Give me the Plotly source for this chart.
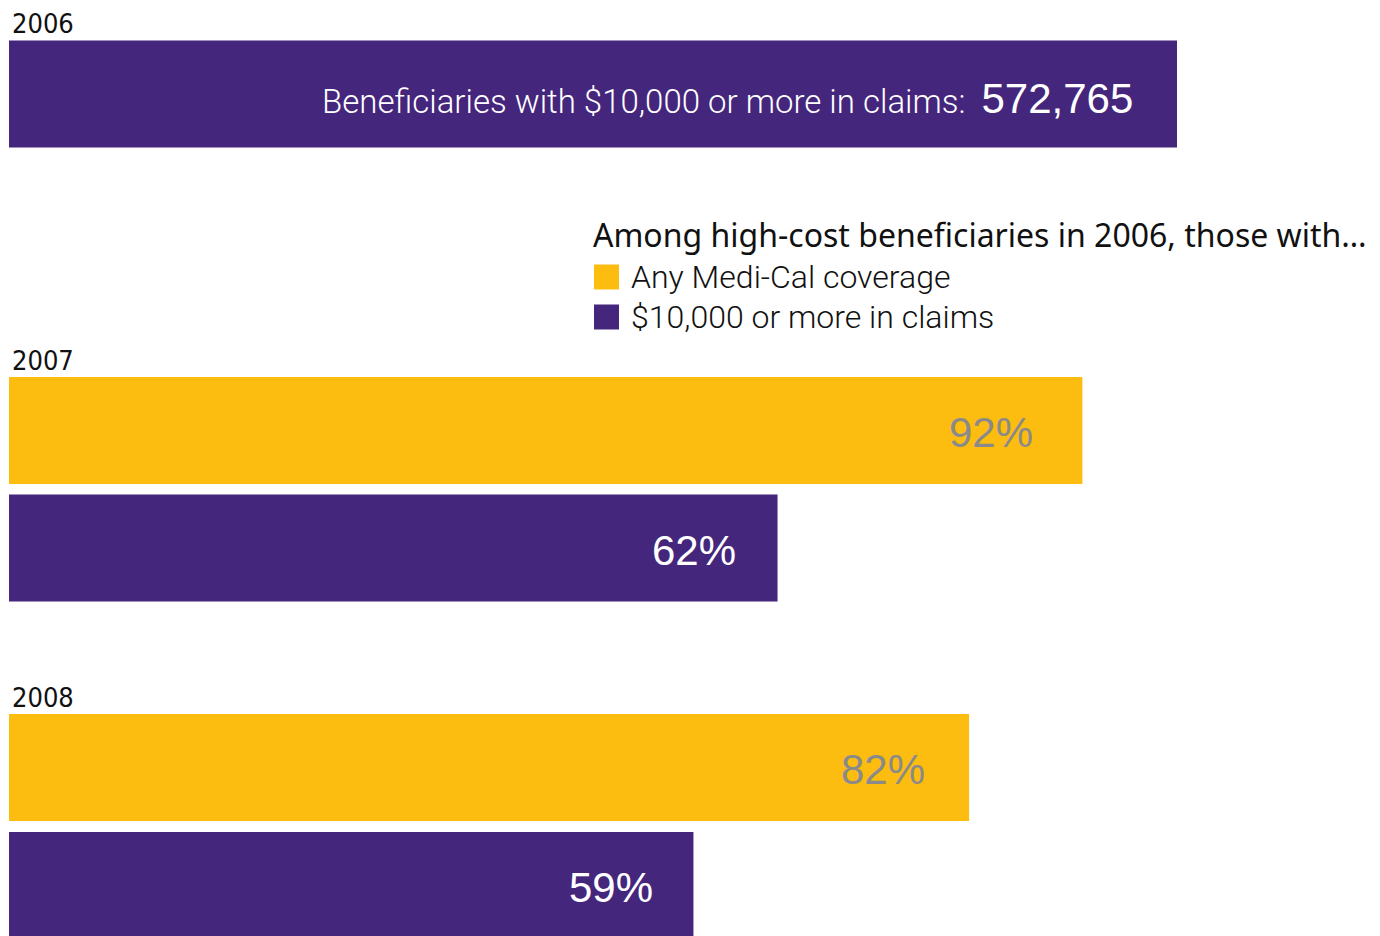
import plotly.graph_objects as go

# data (bar lengths as drawn, 2006 = 100)
years = ["2006", "2007", "2008"]
coverage_years = ["2007", "2008"]
coverage_len = [91.9, 82.2]
coverage_lbl = ["92%", "82%"]
claims_years = ["2006", "2007", "2008"]
claims_len = [100, 65.8, 58.6]
claims_lbl = ["572,765", "62%", "59%"]

PURPLE = "#45267D"
YELLOW = "#FCBD10"
GREY_TXT = "#8A8A8A"

W, H = 1380, 936
OFF = 8  # page body margin, compensated so the figure lines up with the window
# layout: vertical slot (pixel centre on screen) of each bar, bar thickness
BAR_H = 107
slot = {
    ("2006", "claims"): 94,
    ("2007", "coverage"): 430.5,
    ("2007", "claims"): 548,
    ("2008", "coverage"): 767.5,
    ("2008", "claims"): 885.5,
}
# gap between label end and bar end, per row
pad = {
    ("2006", "claims"): 42,
    ("2007", "coverage"): 47,
    ("2007", "claims"): 40,
    ("2008", "coverage"): 42,
    ("2008", "claims"): 38,
}
px_per_unit = 11.68
x0_px = 9


def px(x):
    return (x - OFF) / W


def py(y):
    return 1 - (y - OFF) / H


fig = go.Figure()
fig.add_trace(go.Bar(
    x=coverage_len,
    y=[slot[(y, "coverage")] for y in coverage_years],
    orientation="h", width=BAR_H,
    marker=dict(color=YELLOW, line=dict(width=0)),
    name="Any Medi-Cal coverage", hoverinfo="skip"))
fig.add_trace(go.Bar(
    x=claims_len,
    y=[slot[(y, "claims")] for y in claims_years],
    orientation="h", width=BAR_H,
    marker=dict(color=PURPLE, line=dict(width=0)),
    name="$10,000 or more in claims", hoverinfo="skip"))

ann = []
# value labels inside bars
for yr, v, lbl in zip(coverage_years, coverage_len, coverage_lbl):
    ann.append(dict(x=v, y=slot[(yr, "coverage")], xref="x", yref="y",
                    text=lbl, showarrow=False, xanchor="right",
                    xshift=-pad[(yr, "coverage")], yshift=-2,
                    font=dict(family="Liberation Sans, Arial", size=42, color=GREY_TXT)))
for yr, v, lbl in zip(claims_years, claims_len, claims_lbl):
    if yr == "2006":
        txt = ("Beneficiaries with $10,000 or more in claims:  "
               f"<span style='font-family:Liberation Sans;font-size:42px;font-weight:400'>{lbl}</span>")
        ann.append(dict(x=v, y=slot[(yr, "claims")], xref="x", yref="y",
                        text=txt, showarrow=False, xanchor="right",
                        xshift=-pad[(yr, "claims")], yshift=-4,
                        font=dict(family="Roboto", size=33, weight=300, color="white")))
    else:
        ann.append(dict(x=v, y=slot[(yr, "claims")], xref="x", yref="y",
                        text=lbl, showarrow=False, xanchor="right",
                        xshift=-pad[(yr, "claims")], yshift=-2,
                        font=dict(family="Liberation Sans, Arial", size=42, color="white")))

# year labels above each group
for yr in years:
    key = (yr, "claims") if yr == "2006" else (yr, "coverage")
    top = slot[key] - BAR_H / 2
    ann.append(dict(x=px(11), y=top, xref="paper", yref="y", text=yr,
                    showarrow=False, xanchor="left", yanchor="bottom", borderpad=0,
                    yshift=0,
                    font=dict(family="DejaVu Sans Condensed", size=27, color="#111111")))

# legend built by hand
ann.append(dict(x=px(591), y=py(234), xref="paper", yref="paper",
                text="Among high-cost beneficiaries in 2006, those with…",
                showarrow=False, xanchor="left", yanchor="middle",
                font=dict(family="Noto Sans, Open Sans", size=32, color="#111111")))
leg_items = [("Any Medi-Cal coverage", YELLOW, 277), ("$10,000 or more in claims", PURPLE, 317)]
shapes = []
for txt, col, cy in leg_items:
    shapes.append(dict(type="rect", xref="paper", yref="paper",
                       x0=px(594), x1=px(619), y0=py(cy - 12.5), y1=py(cy + 12.5),
                       fillcolor=col, line=dict(width=0)))
    ann.append(dict(x=px(629), y=py(cy), xref="paper", yref="paper", text=txt,
                    showarrow=False, xanchor="left", yanchor="middle",
                    font=dict(family="Roboto", size=32, weight=300, color="#111111")))

fig.update_layout(
    width=W, height=H,
    margin=dict(l=0, r=0, t=0, b=0),
    paper_bgcolor="white", plot_bgcolor="white",
    showlegend=False, barmode="overlay",
    xaxis=dict(range=[-(x0_px - OFF) / px_per_unit, (W + OFF - x0_px) / px_per_unit],
               visible=False, fixedrange=True),
    yaxis=dict(range=[H + OFF, OFF], visible=False, fixedrange=True),
    annotations=ann, shapes=shapes,
)
fig.write_html("out.html")
